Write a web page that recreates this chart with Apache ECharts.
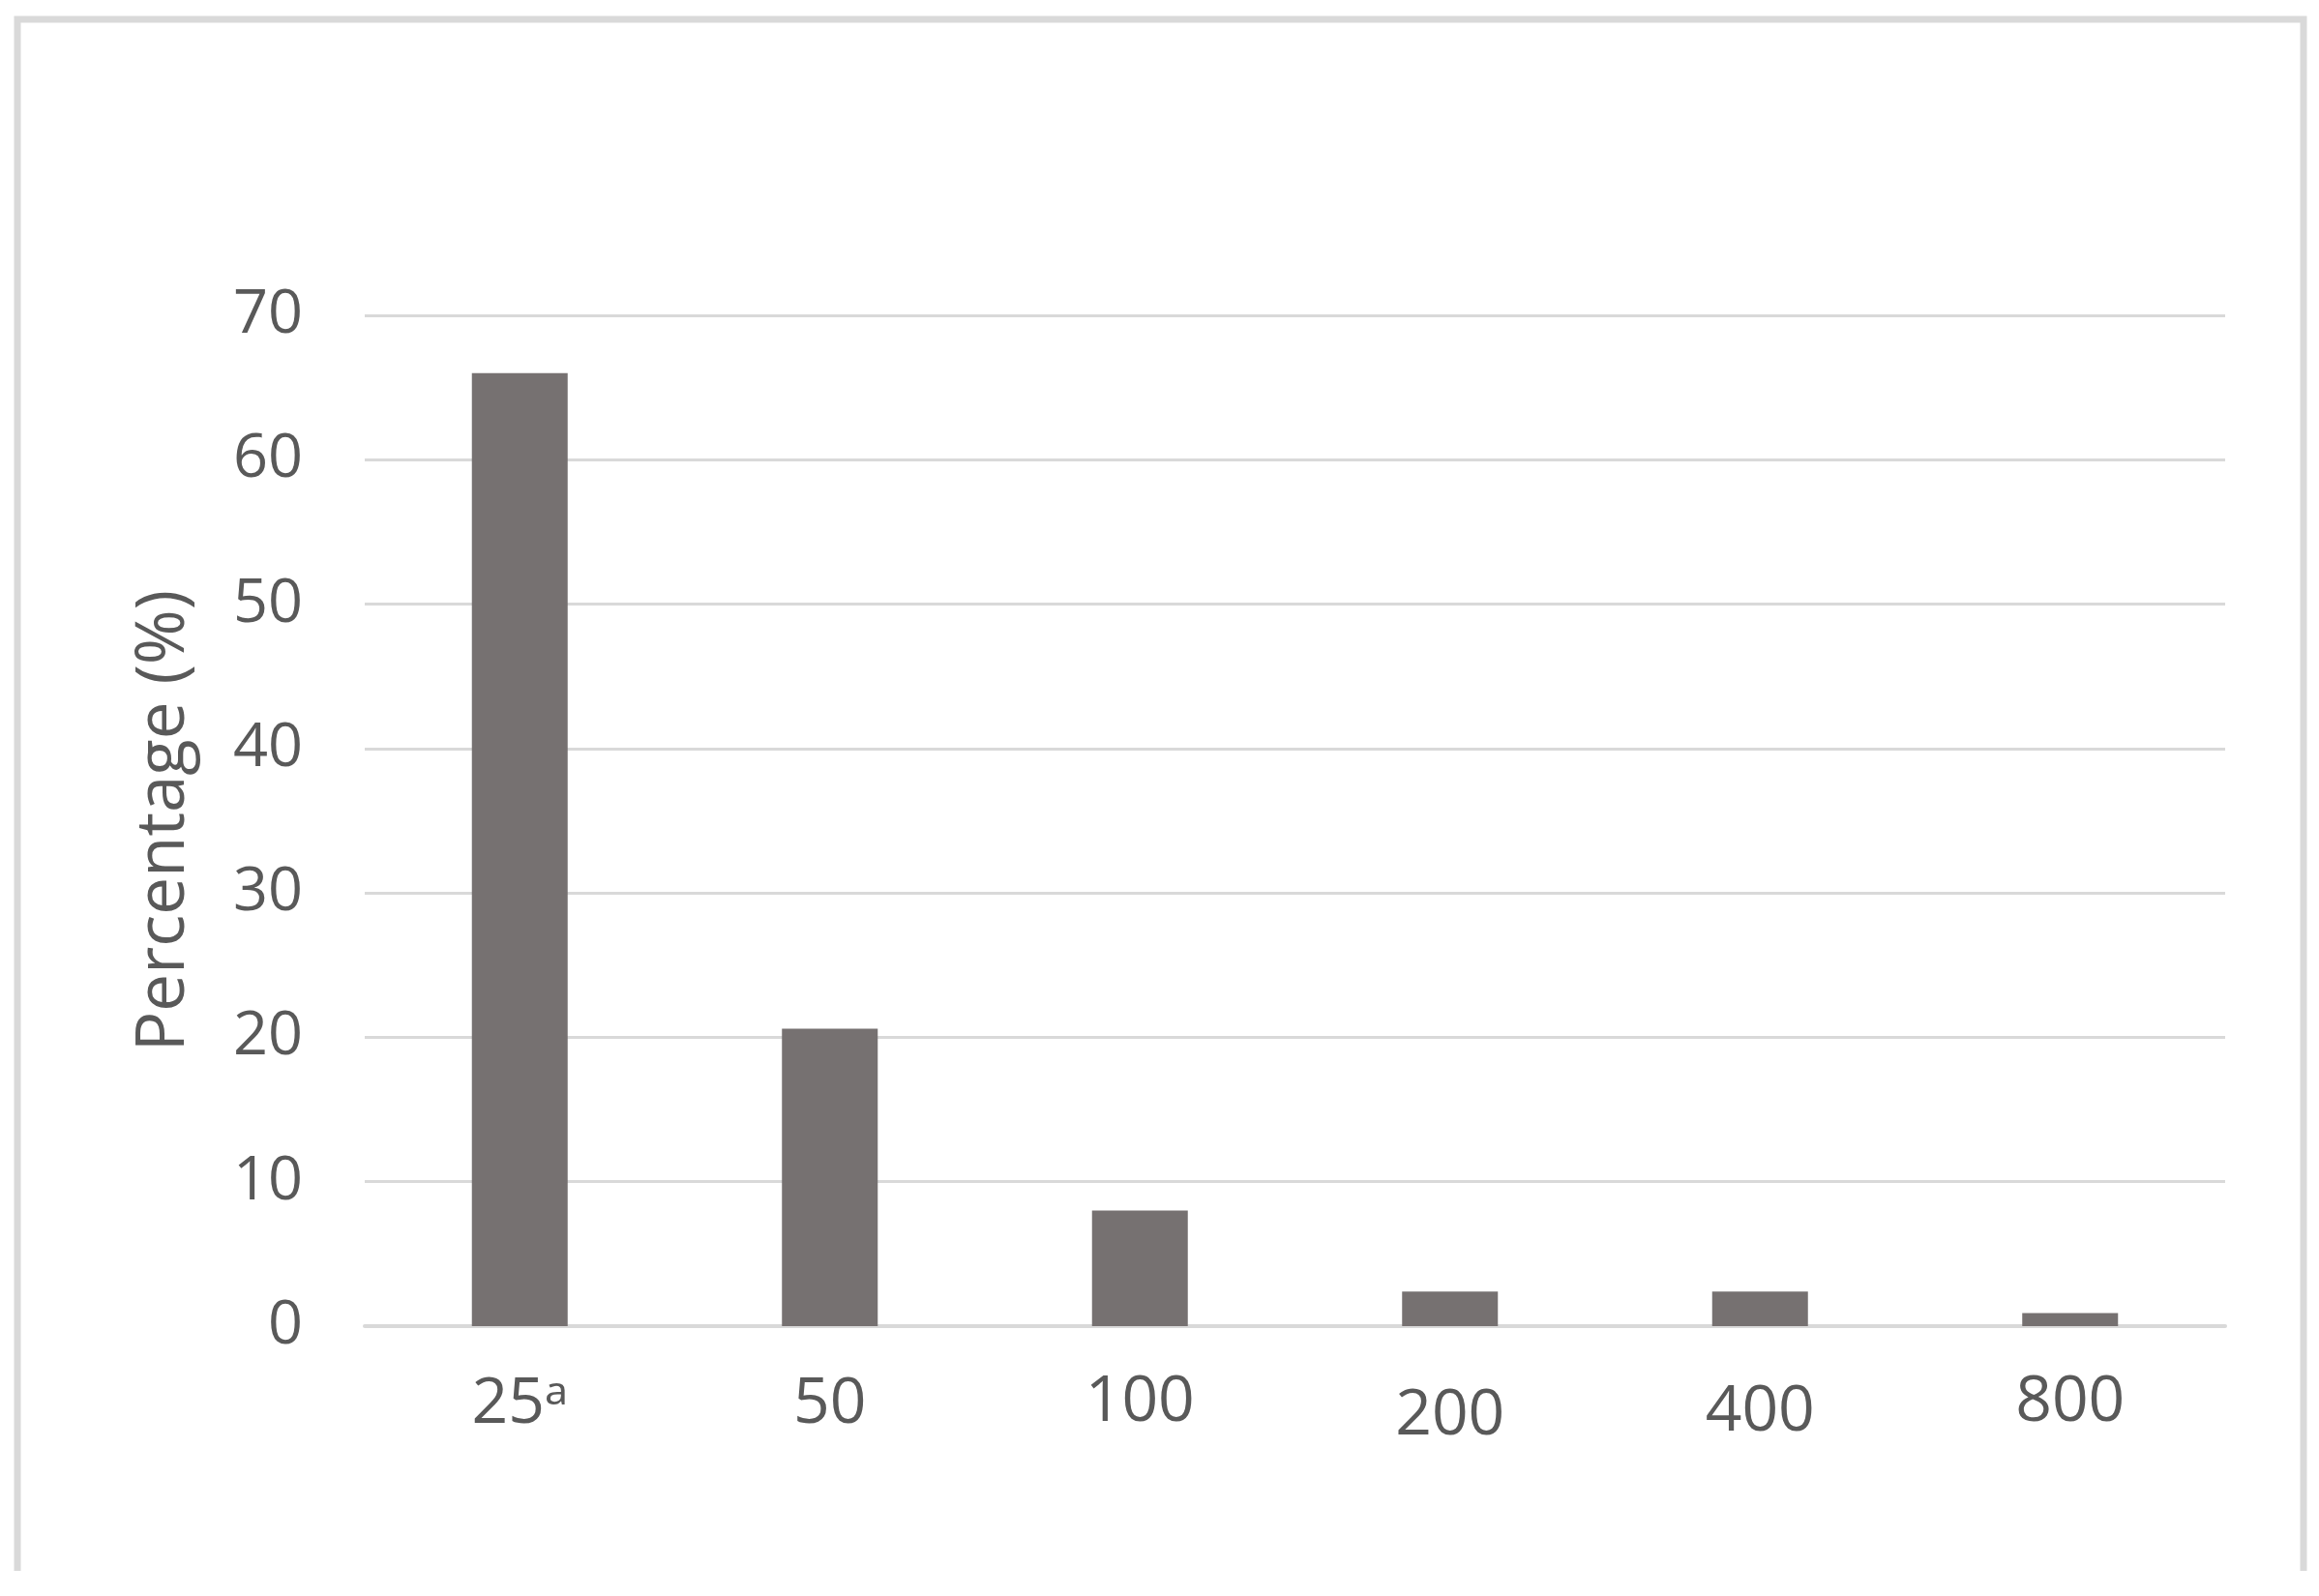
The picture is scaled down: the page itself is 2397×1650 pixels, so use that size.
<!DOCTYPE html>
<html>
<head>
<meta charset="utf-8">
<script src="https://cdn.jsdelivr.net/npm/echarts@6/dist/echarts.min.js"></script>
<style>
  html, body { margin: 0; padding: 0; background: #fff; }
  #chart { width: 2397px; height: 1650px; }
</style>
</head>
<body>
<div id="chart"></div>
<script>
const categories = ['25ᵃ', '50', '100', '200', '400', '800'];
const percentages = [66, 20.6, 8, 2.4, 2.4, 0.9];
const yTicks = [0, 10, 20, 30, 40, 50, 60, 70];
// the scanned labels sit slightly off line, nudge a few down/up
const labelShift = [2, 2, 0, 14, 10, -4];

let chart = echarts.init(document.getElementById('chart'));

let textColor = '#595959';
let font = '"Open Sans", "Noto Sans", sans-serif';

let option = {
  backgroundColor: '#ffffff',
  animation: false,
  grid: {
    left: 377,
    right: 97,
    top: 326,
    bottom: 279
  },
  xAxis: {
    type: 'category',
    data: categories.map((c, i) => ({
      value: c,
      textStyle: { padding: [Math.max(labelShift[i], 0), 0, Math.max(-labelShift[i], 0), 0] }
    })),
    axisLine: { show: true, lineStyle: { color: '#d9d9d9', width: 4 } },
    axisTick: { show: false },
    axisLabel: {
      margin: 46,
      color: textColor,
      fontFamily: font,
      fontSize: 66
    }
  },
  yAxis: {
    type: 'value',
    min: yTicks[0],
    max: yTicks[yTicks.length - 1],
    interval: 10,
    name: 'Percentage (%)',
    nameLocation: 'middle',
    nameGap: 172,
    nameTextStyle: {
      color: textColor,
      fontFamily: font,
      fontSize: 69
    },
    axisLine: { show: false },
    axisTick: { show: false },
    splitLine: { lineStyle: { color: '#d9d9d9', width: 3 } },
    axisLabel: {
      margin: 64,
      color: textColor,
      fontFamily: font,
      fontSize: 63
    }
  },
  series: [{
    type: 'bar',
    data: percentages,
    barWidth: 99,
    itemStyle: { color: '#767171' }
  }],
  graphic: [{
    type: 'polyline',
    shape: { points: [[18, 1624], [18, 20], [2381, 20], [2381, 1624]] },
    style: { stroke: '#d9d9d9', lineWidth: 7, fill: null }
  }]
};

chart.setOption(option);
</script>
</body>
</html>
